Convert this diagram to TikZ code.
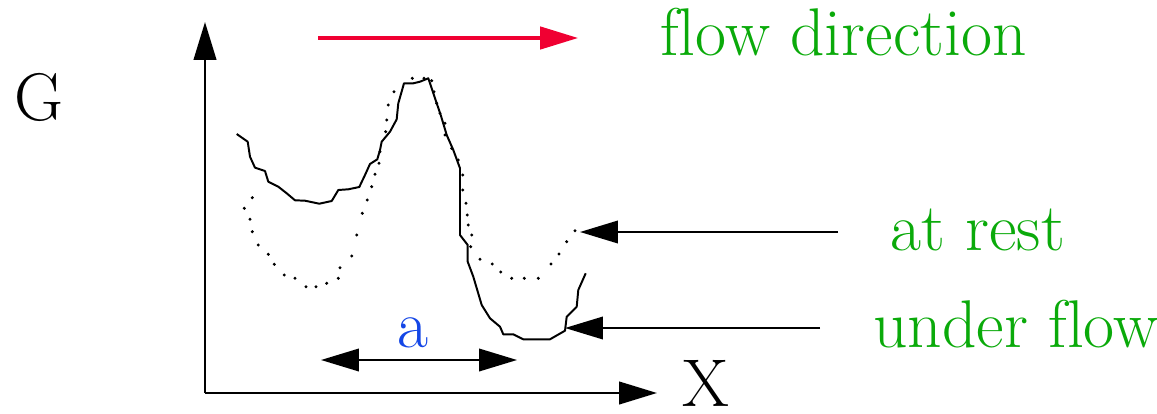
\documentclass[tikz,border=0pt]{standalone}
\usepackage{fontspec}
\usetikzlibrary{arrows.meta}
\definecolor{flowgreen}{RGB}{10,170,10}
\definecolor{flowred}{RGB}{240,0,50}
\definecolor{widthblue}{RGB}{20,70,230}
\tikzset{
  bigtip/.style={-{Triangle[length=27pt,width=16pt]}},
  label text/.style={font=\rmfamily\fontsize{48}{52}\selectfont, inner sep=0pt},
}
\begin{document}
\begin{tikzpicture}[x=0.025cm, y=-0.025cm]
			\useasboundingbox (0,0) rectangle (1157,414);

			% Define coordinates of the axes and arrows
			\coordinate (origin) at (205,393);
			\coordinate (ytop) at (205,22);
			\coordinate (xend) at (657,393);
			\coordinate (redstart) at (318,38);
			\coordinate (redend) at (578,38);
			\coordinate (reststart) at (838,232);
			\coordinate (restend) at (580,232);
			\coordinate (understart) at (820,328);
			\coordinate (underend) at (565,328);
			\coordinate (aleft) at (321,360);
			\coordinate (aright) at (517,360);

			% Labels
			\node[label text, anchor=base west] (G) at (14,120) {G};
			\node[label text, anchor=base west] (X) at (682,406) {X};
			\node[label text, anchor=base west, text=flowgreen] (flowlbl) at (660,55) {f\kern0pt low direction};
			\node[label text, anchor=base west, text=flowgreen] (restlbl) at (890,250) {at rest};
			\node[label text, anchor=base west, text=flowgreen] (underlbl) at (873,347) {under f\kern0pt low};
			\node[label text, anchor=base, text=widthblue] (alabel) at (413,347) {a};

			% Axes
			\draw[line width=1.9pt, bigtip] (origin) -- (ytop);
			\draw[line width=1.9pt, bigtip] (origin) -- (xend);

			% Arrows
			\draw[line width=2.2pt, flowred, bigtip] (redstart) -- (redend);
			\draw[line width=1.5pt, bigtip] (reststart) -- (restend);
			\draw[line width=1.5pt, bigtip] (understart) -- (underend);
			\draw[line width=1.5pt, {Triangle[length=27pt,width=16pt]}-{Triangle[length=27pt,width=16pt]}] (aleft) -- (aright);

			% Profile under flow
			\draw[line width=1.4pt, line join=round] (236.7,134) -- (247.7,141.7) -- (250,156.7) -- (255,167.7)
				-- (265,171) -- (268.3,181.7) -- (278.3,186.7) -- (286.7,193.3) -- (295,200.3)
				-- (305,200.7) -- (319.3,203.7) -- (331.7,201) -- (338.3,190) -- (348.3,189.3)
				-- (359.3,187) -- (365,175) -- (370,164) -- (377.3,159.3) -- (380,150)
				-- (381.7,141.7) -- (390,131.7) -- (396.7,119.3) -- (398.3,103.3) -- (404,83.3)
				-- (413.3,83.3) -- (420,81.7) -- (428.3,78.3) -- (436.7,103.3) -- (440.7,115)
				-- (446.7,135) -- (453.3,150) -- (460,168.3) -- (460,235) -- (467.7,245)
				-- (467.7,261.7) -- (473.3,276.7) -- (481.7,305) -- (490,318.3) -- (500,326.7)
				-- (503.3,334.3) -- (513.3,334.3) -- (523.3,339.3) -- (550,339.3) -- (565,330.7)
				-- (566.7,316.7) -- (576.7,306.7) -- (578.3,290) -- (585.7,273.3);

			% Profile at rest
			\foreach \px/\py in {252.3/197.7, 244.3/208.3, 250/219.3, 252.3/231.7, 258.3/245,
				268.3/254.3, 274.3/264.3, 284.3/275, 295/278.3, 306/286.7, 316/286.7,
				326.7/283.3, 338.3/278.3, 340/267.7, 351.7/256, 356.7/235, 362.3/213.3,
				367.3/200, 371.7/186.7, 375/174.3, 379/163.3, 380/151.7, 385.7/131.7,
				386.7/120, 388.3/105, 394/91.7, 412.3/78.3, 424/78.3, 431.7/80.7,
				434/91.7, 436.7/103.3, 440/113.3, 445/123.3, 445/135, 451.7/148.3,
				458.3/160, 462.7/175, 462.7/190, 466/203.3, 467.3/215, 468.3/225,
				471.7/235, 470.7/246.7, 480/259.3, 492.3/264, 500.7/272, 511.7/278.3,
				524.3/278.3, 538.3/278.3, 551/264, 559/254, 566.7/241.7, 575/230.7}
				\fill (\px,\py) circle (1.2pt);

		\end{tikzpicture}
\end{document}
